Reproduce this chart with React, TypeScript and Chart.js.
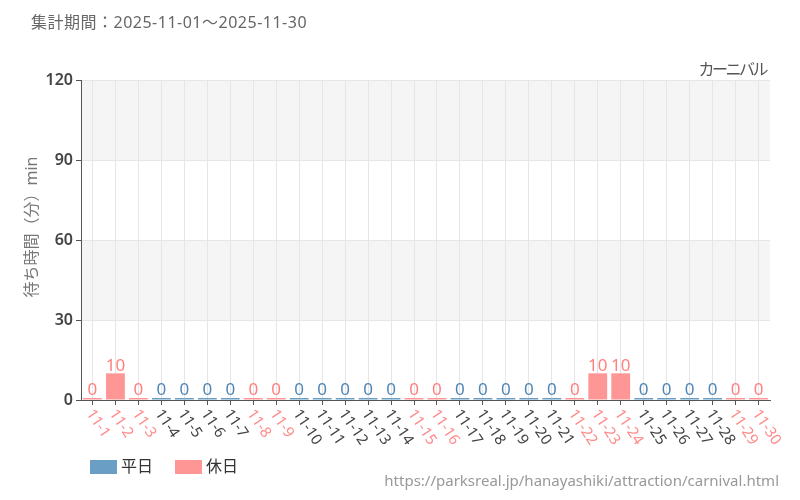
import React, { useEffect, useRef } from 'react';
import { Chart, registerables } from 'chart.js';

Chart.register(...registerables);

const FONT = '"Noto Sans", "Noto Sans CJK JP", sans-serif';

const periodTitle = '集計期間：2025-11-01～2025-11-30';
const attractionName = 'カーニバル';
const sourceUrl = 'https://parksreal.jp/hanayashiki/attraction/carnival.html';
const yAxisTitle = '待ち時間（分）min';

const categories = [
  '11-1', '11-2', '11-3', '11-4', '11-5', '11-6', '11-7', '11-8', '11-9', '11-10',
  '11-11', '11-12', '11-13', '11-14', '11-15', '11-16', '11-17', '11-18', '11-19', '11-20',
  '11-21', '11-22', '11-23', '11-24', '11-25', '11-26', '11-27', '11-28', '11-29', '11-30',
];

const isHoliday = [
  true, true, true, false, false, false, false, true, true, false,
  false, false, false, false, true, true, false, false, false, false,
  false, true, true, true, false, false, false, false, true, true,
];

const weekdayValues = [
  null, null, null, 0, 0, 0, 0, null, null, 0,
  0, 0, 0, 0, null, null, 0, 0, 0, 0,
  0, null, null, null, 0, 0, 0, 0, null, null,
];

const holidayValues = [
  0, 10, 0, null, null, null, null, 0, 0, null,
  null, null, null, null, 0, 0, null, null, null, null,
  null, 0, 10, 10, null, null, null, null, 0, 0,
];

const yTicks = [0, 30, 60, 90, 120];
const shadedBands = [[30, 60], [90, 120]];

const seriesNames = ['平日', '休日'];
const barColors = ['#6a9ec5', '#ff9696'];
const labelColors = ['#4f86b6', '#ff7f7f'];
const tickColorWeekday = '#444444';
const tickColorHoliday = '#ff8a8a';

const decorPlugin = {
  id: 'decor',
  beforeDraw(chart: any) {
    const { ctx, chartArea } = chart;
    const y = chart.scales.y;
    ctx.save();
    ctx.fillStyle = '#f5f5f5';
    shadedBands.forEach(([lo, hi]) => {
      const top = y.getPixelForValue(hi);
      const bot = y.getPixelForValue(lo);
      ctx.fillRect(chartArea.left, top, chartArea.right - chartArea.left, bot - top);
    });
    ctx.restore();
  },
  afterDatasetsDraw(chart: any) {
    const { ctx } = chart;
    ctx.save();
    ctx.font = `17px ${FONT}`;
    ctx.textAlign = 'center';
    ctx.textBaseline = 'bottom';
    chart.data.datasets.forEach((ds: any, di: number) => {
      const meta = chart.getDatasetMeta(di);
      meta.data.forEach((el: any, i: number) => {
        const v = ds.data[i];
        if (v === null || v === undefined) return;
        ctx.fillStyle = labelColors[di];
        ctx.fillText(String(v), el.x, el.y + 1);
      });
    });
    ctx.restore();
  },
  afterDraw(chart: any) {
    const { ctx, chartArea } = chart;
    const x = chart.scales.x;
    ctx.save();
    // x tick labels, rotated
    ctx.font = `15px ${FONT}`;
    ctx.textAlign = 'left';
    ctx.textBaseline = 'middle';
    categories.forEach((lab, i) => {
      const px = x.getPixelForTick(i);
      ctx.save();
      ctx.translate(px - 3, x.top + 11);
      ctx.rotate((56 * Math.PI) / 180);
      ctx.fillStyle = isHoliday[i] ? tickColorHoliday : tickColorWeekday;
      ctx.fillText(lab, 0, 0);
      ctx.restore();
    });

    // title
    ctx.font = `16px ${FONT}`;
    ctx.fillStyle = '#666666';
    ctx.textAlign = 'left';
    (ctx as any).letterSpacing = '0.5px';
    ctx.fillText(periodTitle, 31, 23);
    (ctx as any).letterSpacing = '0px';

    // attraction name
    ctx.fillStyle = '#555555';
    ctx.textAlign = 'right';
    (ctx as any).letterSpacing = '-2.5px';
    ctx.fillText(attractionName, chartArea.right - 4, 70);
    (ctx as any).letterSpacing = '0px';

    // y axis title
    ctx.save();
    ctx.translate(32, 227);
    ctx.rotate(-Math.PI / 2);
    ctx.textAlign = 'center';
    ctx.fillStyle = '#777777';
    ctx.fillText(yAxisTitle, 0, 0);
    ctx.restore();

    // legend
    let lx = 90;
    const ly = 467;
    seriesNames.forEach((name, i) => {
      ctx.fillStyle = barColors[i];
      ctx.fillRect(lx, ly - 7, 27, 14);
      ctx.fillStyle = '#333333';
      ctx.textAlign = 'left';
      ctx.fillText(name, lx + 31, ly);
      lx += 85;
    });

    // source url
    ctx.font = `15px ${FONT}`;
    ctx.fillStyle = '#999999';
    ctx.textAlign = 'right';
    ctx.fillText(sourceUrl, 779, 482);
    ctx.restore();
  },
};

export default function App() {
  const ref = useRef<HTMLCanvasElement | null>(null);

  useEffect(() => {
    document.body.style.margin = '0';
    if (!ref.current) return;
    const chart = new Chart(ref.current, {
      type: 'bar',
      data: {
        labels: categories,
        datasets: [
          {
            label: seriesNames[0],
            data: weekdayValues,
            backgroundColor: barColors[0],
            minBarLength: 2,
            barPercentage: 0.82,
            categoryPercentage: 1,
          },
          {
            label: seriesNames[1],
            data: holidayValues,
            backgroundColor: barColors[1],
            minBarLength: 2,
            barPercentage: 0.82,
            categoryPercentage: 1,
          },
        ],
      },
      options: {
        animation: false,
        responsive: false,
        devicePixelRatio: 1,
        layout: { padding: { top: 80, right: 30, bottom: 0, left: 0 } },
        plugins: {
          legend: { display: false },
          title: { display: false },
          tooltip: { enabled: false },
        },
        scales: {
          x: {
            stacked: true,
            afterFit: (s: any) => { s.height = 100; },
            grid: {
              offset: false,
              color: '#e6e6e6',
              tickColor: '#555555',
              tickLength: 5,
            },
            border: { color: '#555555' },
            ticks: { display: false },
          },
          y: {
            stacked: true,
            min: 0,
            max: 120,
            afterFit: (s: any) => { s.width = 81; },
            afterBuildTicks: (s: any) => { s.ticks = yTicks.map((v) => ({ value: v })); },
            grid: {
              color: '#e6e6e6',
              tickColor: '#555555',
              tickLength: 5,
            },
            border: { color: '#555555' },
            ticks: {
              color: '#444444',
              font: { family: FONT, size: 16, weight: '600' },
              padding: 3,
            },
          },
        },
      },
      plugins: [decorPlugin],
    });
    return () => chart.destroy();
  }, []);

  return (
    <div style={{ position: 'absolute', left: 0, top: 0, width: 800, height: 500 }}>
      <canvas ref={ref} width={800} height={500} />
    </div>
  );
}
